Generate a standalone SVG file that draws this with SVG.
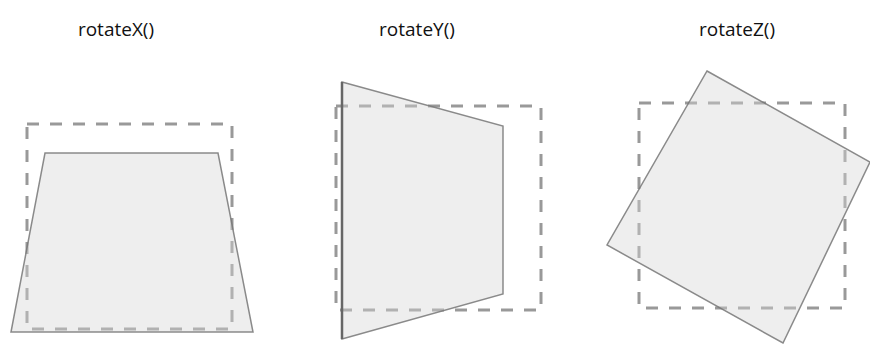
<svg xmlns="http://www.w3.org/2000/svg" width="870" height="344" viewBox="0 0 870 344">
<style>
.lbl{font-family:"Open Sans","Liberation Sans",sans-serif;font-size:19px;fill:#111;text-anchor:middle}
.dash{fill:none;stroke:#999;stroke-width:3;stroke-dasharray:12 11}
.shape{fill:#d4d4d4;fill-opacity:0.4;stroke:#777;stroke-opacity:0.85;stroke-width:1.5;stroke-linejoin:miter}
</style>
<rect width="870" height="344" fill="#fff"/>
<g id="rotateX">
<text class="lbl" x="116" y="36">rotateX()</text>
<rect class="dash" x="27" y="124" width="205" height="205"/>
<polygon class="shape" points="45,153 218,153 253,332 11,332"/>
</g>
<g id="rotateY">
<text class="lbl" x="417" y="36">rotateY()</text>
<rect class="dash" x="336" y="106" width="205" height="204"/>
<polygon class="shape" points="342,82 503,126 503,294 342,339"/>
<line x1="342" y1="82" x2="342" y2="339" stroke="#666" stroke-width="2.5"/>
</g>
<g id="rotateZ">
<text class="lbl" x="737" y="36">rotateZ()</text>
<rect class="dash" x="639" y="103" width="206" height="205"/>
<polygon class="shape" points="707,71 870,162 783,343 607,245"/>
</g>
</svg>
